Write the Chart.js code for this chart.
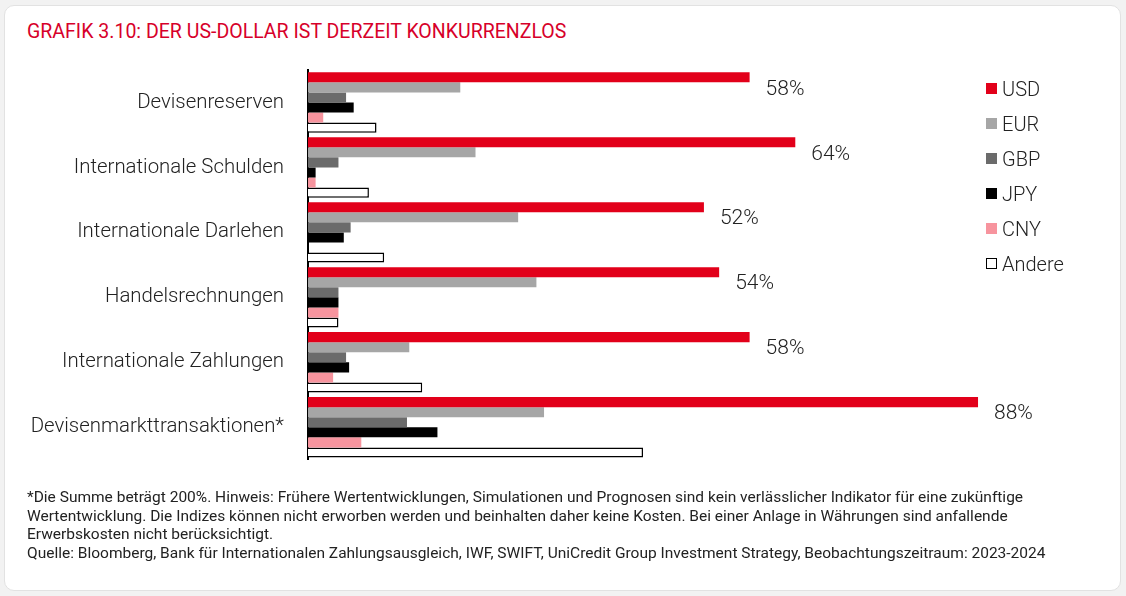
<!DOCTYPE html>
<html>
<head>
<meta charset="utf-8">
<script src="https://cdn.jsdelivr.net/npm/chart.js@4/dist/chart.umd.min.js"></script>
<style>
  html, body { margin: 0; padding: 0; background: #f2f2f2; }
  body { width: 1126px; height: 596px; position: relative; overflow: hidden; }
  .card {
    position: absolute; left: 4px; top: 5px; width: 1115px; height: 584px;
    background: #fff; border: 1px solid #e2e2e2; border-radius: 10px;
  }
  .title {
    position: absolute; left: 27px; top: 19px; white-space: nowrap;
    font-family: "Roboto", sans-serif;
    font-size: 21px; color: #d7002a;
    transform: scaleX(0.93); transform-origin: left top;
  }
  #myChart { position: absolute; left: 0; top: 0; }
  .legend {
    position: absolute; left: 986px; top: 71px;
    font-family: "Roboto", sans-serif; font-weight: 300; font-size: 20px; color: #222;
  }
  .legend div { height: 35px; display: flex; align-items: center; }
  .legend span.box { width: 11px; height: 11px; margin-right: 5px; box-sizing: border-box; }
  .note {
    position: absolute; left: 27px; top: 488px; white-space: nowrap;
    font-family: "Roboto", sans-serif;
    font-size: 15.5px; line-height: 18.5px; color: #222;
  }
</style>
</head>
<body>
<div class="card"></div>
<div class="title">GRAFIK 3.10: DER US-DOLLAR IST DERZEIT KONKURRENZLOS</div>
<canvas id="myChart" width="1126" height="496"></canvas>
<div class="legend" id="legend"></div>
<div class="note">*Die Summe beträgt 200%. Hinweis: Frühere Wertentwicklungen, Simulationen und Prognosen sind kein verlässlicher Indikator für eine zukünftige<br>Wertentwicklung. Die Indizes können nicht erworben werden und beinhalten daher keine Kosten. Bei einer Anlage in Währungen sind anfallende<br>Erwerbskosten nicht berücksichtigt.<br>Quelle: Bloomberg, Bank für Internationalen Zahlungsausgleich, IWF, SWIFT, UniCredit Group Investment Strategy, Beobachtungszeitraum: 2023-2024</div>
<script>
const categories = ['Devisenreserven', 'Internationale Schulden', 'Internationale Darlehen',
  'Handelsrechnungen', 'Internationale Zahlungen', 'Devisenmarkttransaktionen*'];
const usd = [58, 64, 52, 54, 58, 88];
const eur = [20, 22, 27.6, 30, 13.3, 31];
const gbp = [5, 4, 5.6, 4, 5, 13];
const jpy = [6, 1, 4.7, 4, 5.4, 17];
const cny = [2, 1, 0, 4, 3.3, 7];
const andere = [9, 8, 10, 4, 15, 44];

const series = [
  { label: 'USD', data: usd, backgroundColor: '#e2001a', borderColor: '#e2001a', borderWidth: 0 },
  { label: 'EUR', data: eur, backgroundColor: '#a6a6a6', borderColor: '#a6a6a6', borderWidth: 0 },
  { label: 'GBP', data: gbp, backgroundColor: '#6b6b6b', borderColor: '#6b6b6b', borderWidth: 0 },
  { label: 'JPY', data: jpy, backgroundColor: '#000000', borderColor: '#000000', borderWidth: 0 },
  { label: 'CNY', data: cny, backgroundColor: '#f7949e', borderColor: '#f7949e', borderWidth: 0 },
  { label: 'Andere', data: andere, backgroundColor: '#ffffff', borderColor: '#000000', borderWidth: 1.5 }
];

// usd labels to the right of the red bars
const usdLabels = {
  id: 'usdLabels',
  afterDatasetsDraw(chart) {
    const ctx = chart.ctx;
    const meta = chart.getDatasetMeta(0);
    ctx.save();
    ctx.font = '300 21px Roboto, sans-serif';
    ctx.fillStyle = '#222';
    ctx.textBaseline = 'middle';
    meta.data.forEach((bar, i) => {
      ctx.fillText(usd[i] + '%', bar.x + 16, bar.y + 12);
    });
    ctx.restore();
  }
};

const ctx = document.getElementById('myChart');
const myChart = new Chart(ctx, {
  type: 'bar',
  data: {
    labels: categories,
    datasets: series.map(s => Object.assign({ barPercentage: 1, categoryPercentage: 0.93 }, s))
  },
  options: {
    indexAxis: 'y',
    responsive: false,
    animation: false,
    layout: { padding: { top: 70, bottom: 12, left: 0, right: 56.6 } },
    plugins: { legend: { display: false }, tooltip: { enabled: false } },
    scales: {
      x: { display: false, min: 0, max: 100 },
      y: {
        afterFit(scale) { scale.width = 308; },
        grid: { display: false, drawTicks: false },
        border: { display: true, color: '#000', width: 2 },
        ticks: {
          padding: 24,
          color: '#222',
          font: { family: 'Roboto', weight: '300', size: 20.4 }
        }
      }
    }
  },
  plugins: [usdLabels]
});

const legend = document.getElementById('legend');
series.forEach(s => {
  const row = document.createElement('div');
  const box = document.createElement('span');
  box.className = 'box';
  box.style.background = s.backgroundColor;
  if (s.borderWidth) box.style.border = '1.5px solid #000';
  row.appendChild(box);
  row.appendChild(document.createTextNode(s.label));
  legend.appendChild(row);
});
</script>
</body>
</html>
